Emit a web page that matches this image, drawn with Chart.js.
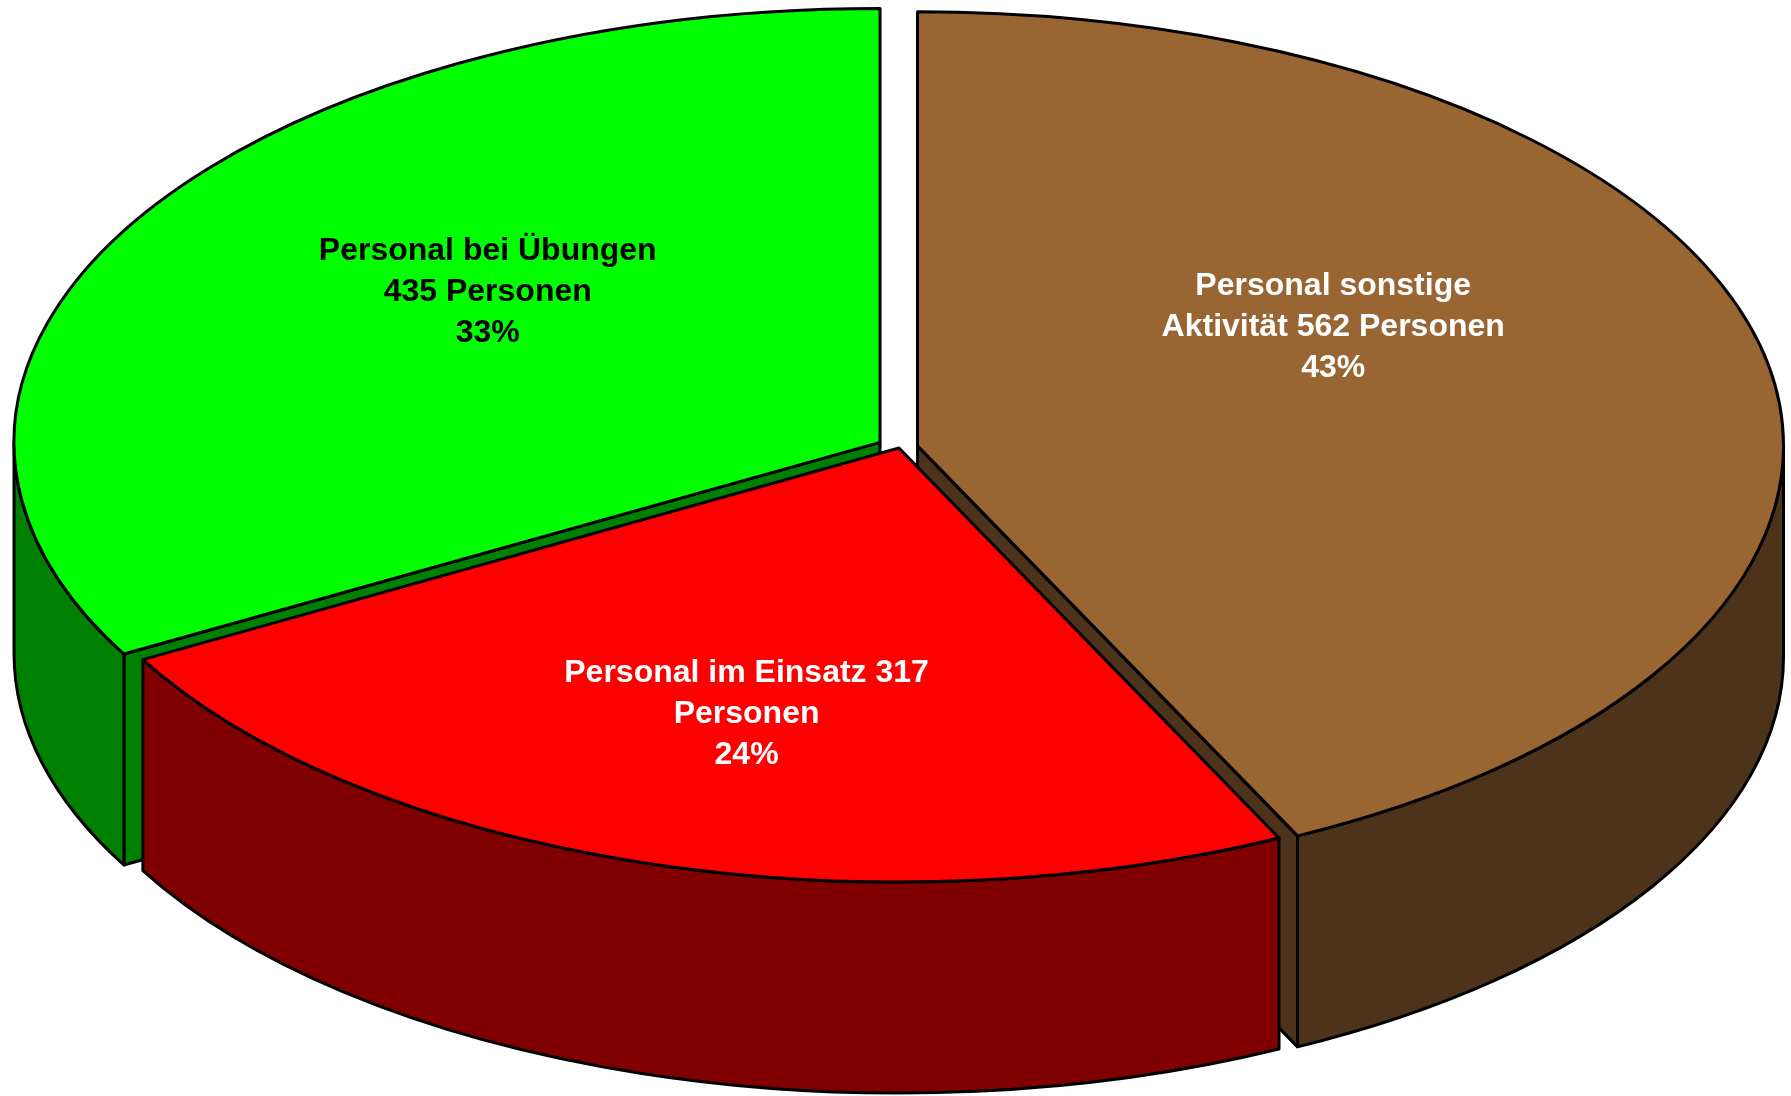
<!DOCTYPE html>
<html>
<head>
<meta charset="utf-8">
<script src="https://cdn.jsdelivr.net/npm/chart.js@4.4.1/dist/chart.umd.min.js"></script>
<style>
  html, body { margin: 0; padding: 0; background: #fff; overflow: hidden; }
  canvas { display: block; }
</style>
</head>
<body>
<canvas id="grafica" width="1791" height="1096"></canvas>
<script>
// Personal nach Tätigkeit
const categories = ['Personal sonstige Aktivität', 'Personal im Einsatz', 'Personal bei Übungen'];
const values = [562, 317, 435];
const unit = 'Personen';

const topColors = ['#996633', '#FF0000', '#00FF00'];
const sideColors = ['#4D331A', '#800000', '#008000'];
const textColors = ['#FFFFFF', '#FFFFFF', '#000000'];
const explode = [19, 0, 22];

// label centre, relative to the slice tip, as a share of the two radii
const labelSpot = [[0.48, -0.274], [-0.176, 0.614], [-0.453, -0.347]];

// tilted pie: horizontal / vertical radius and wall height
const RX = 866, RY = 434, DEPTH = 211;
const FONT = 'bold 32px "Liberation Sans", Arial, sans-serif';
const LINE_H = 41;
const WRAP = 380;

function wrapText(ctx, text, maxW) {
    const words = text.split(' ');
    const lines = [];
    let cur = '';
    words.forEach(w => {
        const test = cur ? cur + ' ' + w : w;
        if (cur && ctx.measureText(test).width > maxW) {
            lines.push(cur);
            cur = w;
        } else {
            cur = test;
        }
    });
    if (cur) lines.push(cur);
    return lines;
}

const pie3d = {
    id: 'pie3d',
    beforeDatasetsDraw(chart) {
        const ctx = chart.ctx;
        const arcs = chart.getDatasetMeta(0).data;
        const total = values.reduce((a, b) => a + b, 0);

        const slices = arcs.map((arc, i) => {
            const {x, y, startAngle, endAngle} = arc.getProps(['x', 'y', 'startAngle', 'endAngle'], true);
            const mid = (startAngle + endAngle) / 2;
            const d = arc.options.offset || 0;
            return {
                i, a1: startAngle, a2: endAngle, mid,
                px: x + d * Math.cos(mid),
                py: y + d * Math.sin(mid) * RY / RX
            };
        });

        ctx.save();
        ctx.lineWidth = 3;
        ctx.lineJoin = 'round';
        ctx.strokeStyle = '#000';

        const radialWall = (s, a) => {
            const qx = s.px + RX * Math.cos(a), qy = s.py + RY * Math.sin(a);
            ctx.beginPath();
            ctx.moveTo(s.px, s.py);
            ctx.lineTo(qx, qy);
            ctx.lineTo(qx, qy + DEPTH);
            ctx.lineTo(s.px, s.py + DEPTH);
            ctx.closePath();
            ctx.fill();
            ctx.stroke();
        };

        const outerWall = s => {
            const lo = Math.max(s.a1, 0), hi = Math.min(s.a2, Math.PI);
            if (hi <= lo) return;
            ctx.beginPath();
            ctx.ellipse(s.px, s.py, RX, RY, 0, lo, hi);
            ctx.ellipse(s.px, s.py + DEPTH, RX, RY, 0, hi, lo, true);
            ctx.closePath();
            ctx.fill();
            ctx.stroke();
        };

        // back slices first, the one facing us last
        [...slices].sort((a, b) => Math.sin(a.mid) - Math.sin(b.mid)).forEach(s => {
            ctx.fillStyle = sideColors[s.i];
            if (Math.cos(s.a1) < 0) radialWall(s, s.a1);
            if (Math.cos(s.a2) > 0) radialWall(s, s.a2);
            outerWall(s);

            ctx.fillStyle = topColors[s.i];
            ctx.beginPath();
            ctx.moveTo(s.px, s.py);
            ctx.ellipse(s.px, s.py, RX, RY, 0, s.a1, s.a2);
            ctx.closePath();
            ctx.fill();
            ctx.stroke();
        });

        // data labels
        ctx.font = FONT;
        ctx.textAlign = 'center';
        ctx.textBaseline = 'middle';
        slices.forEach(s => {
            const v = values[s.i];
            const pct = Math.round(v / total * 100) + '%';
            const lines = wrapText(ctx, categories[s.i] + ' ' + v + ' ' + unit, WRAP);
            lines.push(pct);
            const cx = s.px + labelSpot[s.i][0] * RX;
            const cy = s.py + labelSpot[s.i][1] * RY;
            ctx.fillStyle = textColors[s.i];
            lines.forEach((t, k) => {
                ctx.fillText(t, cx, cy + (k - (lines.length - 1) / 2) * LINE_H);
            });
        });

        ctx.restore();
        return false;
    }
};

new Chart(document.getElementById('grafica'), {
    type: 'pie',
    data: {
        labels: categories,
        datasets: [{
            data: values,
            backgroundColor: topColors,
            borderWidth: 0,
            offset: explode
        }]
    },
    options: {
        responsive: false,
        animation: false,
        events: [],
        layout: { padding: { left: 7, right: 0, top: 0, bottom: 200 } },
        plugins: {
            legend: { display: false },
            tooltip: { enabled: false }
        }
    },
    plugins: [pie3d]
});
</script>
</body>
</html>
